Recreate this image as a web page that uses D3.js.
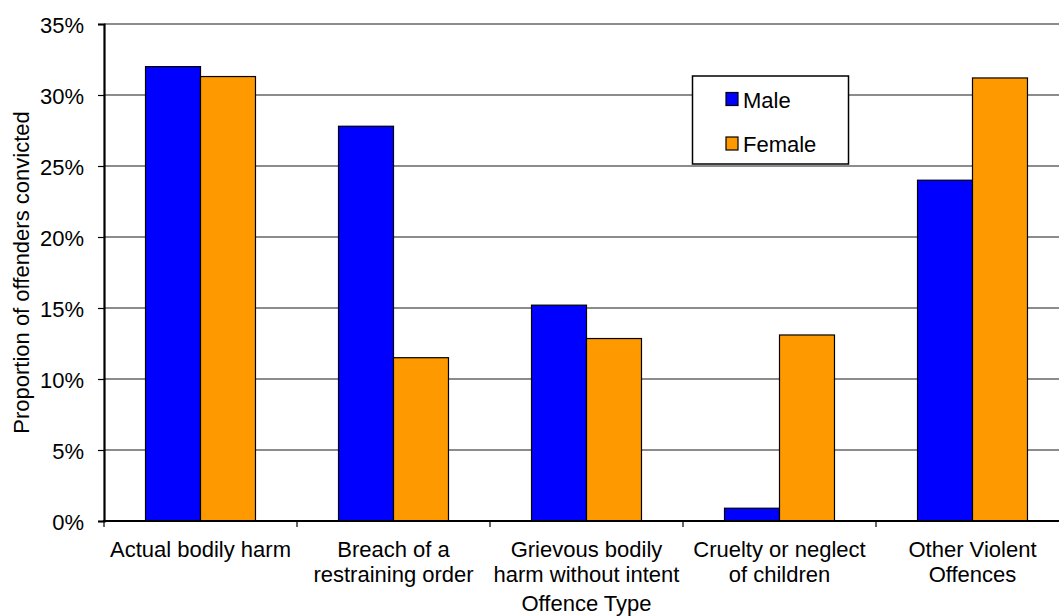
<!DOCTYPE html>
<html>
<head>
<meta charset="utf-8">
<script src="https://cdn.jsdelivr.net/npm/d3@7"></script>
<style>
  html, body { margin: 0; padding: 0; background: #fff; overflow: hidden; }
  svg { display: block; font-family: "Liberation Sans", Arial, sans-serif; }
</style>
</head>
<body>
<svg id="chart" width="1059" height="616"></svg>
<script>
const categories = [
  ["Actual bodily harm"],
  ["Breach of a", "restraining order"],
  ["Grievous bodily", "harm without intent"],
  ["Cruelty or neglect", "of children"],
  ["Other Violent", "Offences"]
];
const seriesNames = ["Male", "Female"];
const maleValues   = [32.0, 27.8, 15.2, 0.9, 24.0];
const femaleValues = [31.3, 11.5, 12.85, 13.1, 31.2];
const yTicks = [0, 5, 10, 15, 20, 25, 30, 35];
const colors = ["#0000FF", "#FF9900"];
const xTitle = "Offence Type";
const yTitle = "Proportion of offenders convicted";

(function () {
const svg = d3.select("#chart");
const pLeft = 104, pRight = 1069, pTop = 24, pBottom = 521;
const FS = 22;

const catKeys = categories.map(c => c.join(" "));
const x0 = d3.scaleBand().domain(catKeys).range([pLeft, pRight]).padding(0);
const x1 = d3.scaleBand().domain(seriesNames).range([0, x0.bandwidth()]).paddingInner(0).paddingOuter(0.755);
const y = d3.scaleLinear().domain([0, 35]).range([pBottom, pTop]);

// gridlines
svg.append("g").selectAll("line").data(yTicks.filter(d => d > 0)).join("line")
  .attr("x1", pLeft).attr("x2", pRight)
  .attr("y1", d => y(d)).attr("y2", d => y(d))
  .attr("stroke", "#1a1a1a").attr("stroke-width", 1.2);

// bars
const seriesData = [maleValues, femaleValues];
const gBars = svg.append("g");
catKeys.forEach((k, i) => {
  seriesNames.forEach((s, j) => {
    const v = seriesData[j][i];
    gBars.append("rect")
      .attr("x", x0(k) + x1(s))
      .attr("y", y(v))
      .attr("width", x1.bandwidth())
      .attr("height", y(0) - y(v))
      .attr("fill", colors[j])
      .attr("stroke", "#000").attr("stroke-width", 1.2);
  });
});

// y axis
const yAxis = d3.axisLeft(y).tickValues(yTicks).tickFormat(d => d + "%").tickSize(6).tickPadding(14);
const gy = svg.append("g").attr("transform", `translate(${pLeft},0)`).call(yAxis);
gy.select(".domain").attr("stroke", "#000").attr("stroke-width", 2.2);
gy.selectAll(".tick line").attr("stroke", "#000").attr("stroke-width", 1.2);
gy.selectAll(".tick text").attr("font-size", FS).attr("fill", "#000")
  .attr("font-family", "'Liberation Sans', Arial, sans-serif")
  .attr("dy", null).attr("y", 8.5);

// x axis (tick marks at category boundaries)
const bounds = catKeys.map(k => x0(k)).concat([pRight]);
svg.append("g").selectAll("line").data(bounds).join("line")
  .attr("x1", d => d).attr("x2", d => d)
  .attr("y1", pBottom).attr("y2", pBottom + 6)
  .attr("stroke", "#000").attr("stroke-width", 1.2);
svg.append("line").attr("x1", pLeft - 1).attr("x2", pRight)
  .attr("y1", pBottom).attr("y2", pBottom)
  .attr("stroke", "#000").attr("stroke-width", 2.2);

// category labels
const gLab = svg.append("g").attr("font-size", FS).attr("fill", "#000").attr("text-anchor", "middle");
categories.forEach((lines, i) => {
  const cx = x0(catKeys[i]) + x0.bandwidth() / 2;
  const t = gLab.append("text").attr("x", cx).attr("y", 557);
  lines.forEach((ln, li) => {
    t.append("tspan").attr("x", cx).attr("dy", li === 0 ? 0 : 25).text(ln);
  });
});

// axis titles
svg.append("text").attr("x", (pLeft + pRight) / 2).attr("y", 611)
  .attr("text-anchor", "middle").attr("font-size", FS).attr("fill", "#000").text(xTitle);
svg.append("text").attr("transform", `translate(29,${(pTop + pBottom) / 2}) rotate(-90)`)
  .attr("text-anchor", "middle").attr("font-size", FS).attr("fill", "#000").text(yTitle);

// legend
const lg = svg.append("g");
lg.append("rect").attr("x", 692.5).attr("y", 76).attr("width", 156).attr("height", 88)
  .attr("fill", "#fff").attr("stroke", "#000").attr("stroke-width", 1.5);
const legendY = [99, 143.5];
seriesNames.forEach((s, j) => {
  lg.append("rect").attr("x", 726).attr("y", legendY[j] - 6.5).attr("width", 12).attr("height", 13)
    .attr("fill", colors[j]).attr("stroke", "#000").attr("stroke-width", 1.2);
  lg.append("text").attr("x", 743).attr("y", legendY[j] + 8.5)
    .attr("font-size", FS).attr("fill", "#000").text(s);
});
})();
</script>
</body>
</html>
